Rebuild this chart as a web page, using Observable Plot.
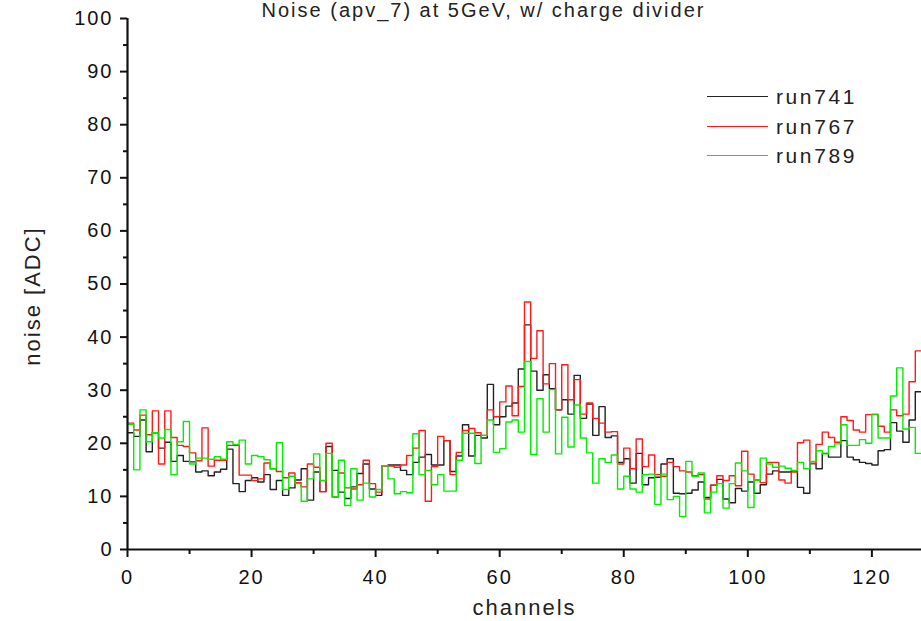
<!DOCTYPE html>
<html><head><meta charset="utf-8">
<script src="https://cdn.jsdelivr.net/npm/d3@7"></script>
<script src="https://cdn.jsdelivr.net/npm/@observablehq/plot@0.6"></script>
<style>
body{margin:0;background:#fff;}
#wrap{position:relative;width:921px;height:621px;overflow:hidden;font-family:"Liberation Sans",Arial,sans-serif;}
#wrap svg text{letter-spacing:2px;}
#wrap svg text.ylab{letter-spacing:0.8px;}
.legend{position:absolute;left:707px;top:82px;}
.legend .row{display:flex;align-items:center;height:29.5px;}
.legend .sw{width:61px;height:0;border-top:1.4px solid;margin-right:8px;}
.legend .lab{font-size:21px;letter-spacing:2.6px;color:#222;line-height:1;}
</style></head><body><div id="wrap"></div>
<script>
const titleText = "Noise (apv_7) at 5GeV, w/ charge divider";
const xLabel = "channels";
const yLabel = "noise [ADC]";
const seriesNames = ["run741", "run767", "run789"];
const seriesColors = ["#222222", "#ff1a1a", "#00ee00"];
const yTickValues = [0, 10, 20, 30, 40, 50, 60, 70, 80, 90, 100];
const yMinorTicks = [5, 15, 25, 35, 45, 55, 65, 75, 85, 95];
const xTickValues = [0, 20, 40, 60, 80, 100, 120];
const xMinorTicks = [10, 30, 50, 70, 90, 110];

// noise per channel (0..127)
const run741 = [
  22, 21.3, 24.4, 18.4, 22, 19.1, 20.2, 16.6, 17.7, 16.6, 16.5, 14.6, 14.8, 13.9, 14.6, 15.1, 18.9, 12.4, 10.9, 13, 13.5,
  12.7, 14.1, 11.3, 13, 10.2, 11.6, 13.1, 15.2, 9.3, 14.6, 10.9, 19.4, 14.9, 10.8, 9.6, 11.8, 14.3, 16.1, 11.4, 10.2, 15.8,
  15.9, 15.9, 14.9, 14.1, 16.4, 17.4, 17.9, 15.9, 15.9, 20.5, 14.7, 17.6, 23.5, 17.6, 21.5, 21, 31.1, 23.5, 25, 27, 27.6, 34,
  42.3, 33.6, 30, 32.9, 30.3, 26.3, 28.2, 25.5, 32.8, 24.7, 27.4, 21.5, 26.9, 21.1, 21.4, 16.4, 17.1, 12.5, 18.1, 12.2, 13.5,
  13.6, 16.1, 17.1, 10.6, 10.5, 10.6, 11.2, 12.7, 9.8, 12.1, 13.2, 9.5, 8.8, 11.5,
  11, 12.7, 10.6, 12.2, 14.2, 14.8, 14.6, 14.6, 14.8, 11.7, 10.6, 16.2, 15.2, 18.1, 17.4, 17.4, 20.5, 17.4, 16.9, 16.4,
  16.2, 15.9, 18.6, 18.8, 23.9, 22.3, 20.2, 24.4, 29.7
];
const run767 = [
  23.8, 22.5, 25.3, 21.6, 26.1, 16.1, 26.1, 21.1, 19.6, 19.4, 18.2, 16.7, 22.9, 15.7, 16.8, 16.8, 19.6, 19.6, 14, 14, 13,
  13.3, 16.3, 15.2, 14.7, 13.5, 14.4, 12.6, 11.8, 16.1, 15.5, 10.9, 20, 9.9, 14.4, 11.6, 11.4, 12.2, 16.8, 12.4, 10.8, 15.7,
  15.7, 15.5, 15.9, 17.7, 19.1, 22.4, 9.1, 15.6, 21.3, 20.5, 14.1, 18.3, 22.4, 22.8, 22, 21.5, 26.3, 25, 27.8, 30.8, 25.2, 30.7,
  46.6, 36, 41.2, 31.2, 35, 26.3, 34.8, 28.2, 32, 25.5, 27.6, 24.7, 23.8, 22.1, 22.2, 16.1, 19.1, 15.2, 20.8, 15.6, 17.8,
  14.1, 13.8, 16.4, 15.6, 14.8, 14.6, 13.9, 14.1, 9.5, 12.1, 13.9, 13, 13.9, 12,
  18.5, 14.2, 13.1, 12.6, 16.4, 16.4, 13.1, 12.5, 14.6, 20.1, 20.6, 16.2, 19.8, 22.1, 21.1, 20.2, 25, 24.3, 22.5, 22.1,
  25.4, 25.4, 23.2, 22.1, 26.3, 25.2, 25.5, 31.6, 37.4
];
const run789 = [
  23.6, 15, 26.3, 20.3, 22, 21, 22.6, 14.1, 20.3, 24.1, 16.1, 17.2, 17.2, 17, 17.5, 17, 20.3, 19.8, 20.6, 16.1, 17.7,
  17.5, 16.9, 15.2, 20.1, 11.3, 13.8, 12.4, 9.1, 13.3, 18, 13, 18.1, 9.9, 16.8, 8.3, 15.2, 9.3, 12.5, 9.9, 11.3, 15.8,
  13.3, 10.5, 10.9, 10.7, 21.8, 14.1, 14.9, 12.2, 14.1, 11, 11, 16.8, 21.9, 21.9, 16.2, 21.5, 24.4, 18.3, 19, 24, 24.4, 22.1,
  35.4, 17.9, 28.4, 22.1, 30.1, 18, 24.9, 19.3, 27.2, 21, 18.2, 12.5, 17.1, 16.4, 17.8, 11.4, 13.8, 11.4, 10.8, 14.1, 14.2,
  8.5, 14.2, 9.4, 10, 6.2, 16.6, 13.8, 14.4, 6.9, 10.8, 12.4, 7.8, 12.4, 16.3,
  14.8, 7.9, 13.1, 17.2, 16.1, 15.5, 15.7, 15.3, 14.9, 16.4, 15.2, 16.6, 18.6, 18, 19.4, 19.9, 23.5, 19.6, 19.6, 20.7,
  20, 25.5, 21, 21, 28.9, 34.2, 22.7, 23, 18.1
];

const allSeries = [run741, run767, run789];
const rows = [];
allSeries.forEach((vals, k) => {
  vals.forEach((v, i) => rows.push({ch: i, v, s: seriesNames[k]}));
  rows.push({ch: vals.length, v: vals[vals.length - 1], s: seriesNames[k]});
});

const axisColor = "#111";
const chart = Plot.plot({
  width: 921, height: 621,
  marginLeft: 127, marginRight: 0, marginTop: 18, marginBottom: 72,
  style: {fontFamily: '"Liberation Sans", Arial, sans-serif', color: "#222", background: "#fff"},
  x: {domain: [0, 128]},
  y: {domain: [0, 100]},
  color: {domain: seriesNames, range: seriesColors},
  marks: [
    Plot.line(rows, {x: "ch", y: "v", z: "s", stroke: "s", curve: "step-after", strokeWidth: 1.4}),
    Plot.axisY(yTickValues, {tickSize: 7, tickPadding: 7, fontSize: 20, label: null, color: axisColor, strokeWidth: 2}),
    Plot.axisY(yMinorTicks, {tickSize: 4, tickFormat: () => "", label: null, color: axisColor, strokeWidth: 2}),
    Plot.axisX(xTickValues, {tickSize: 8, tickPadding: 12, fontSize: 20, label: null, color: axisColor, strokeWidth: 2}),
    Plot.axisX(xMinorTicks, {tickSize: 5, tickFormat: () => "", label: null, color: axisColor, strokeWidth: 2}),
    Plot.ruleX([0], {stroke: axisColor, strokeWidth: 2.2}),
    Plot.ruleY([0], {stroke: axisColor, strokeWidth: 2.2}),
    Plot.text([yLabel], {frameAnchor: "left", textAnchor: "middle", lineAnchor: "middle", dx: -95, dy: 12, rotate: -90, fontSize: 22, fill: "#222", className: "ylab"}),
    Plot.text([xLabel], {frameAnchor: "bottom", lineAnchor: "middle", dy: 58, fontSize: 22, fill: "#222"}),
    Plot.text([titleText], {frameAnchor: "top", lineAnchor: "middle", dx: -41, dy: -8, fontSize: 20, fill: "#222"})
  ]
});
const wrap = document.getElementById("wrap");
wrap.appendChild(chart);

const legend = document.createElement("div");
legend.className = "legend";
seriesNames.forEach((name, k) => {
  const row = document.createElement("div");
  row.className = "row";
  const sw = document.createElement("div");
  sw.className = "sw";
  sw.style.borderTopColor = seriesColors[k];
  const lab = document.createElement("span");
  lab.className = "lab";
  lab.textContent = name;
  row.appendChild(sw); row.appendChild(lab);
  legend.appendChild(row);
});
wrap.appendChild(legend);
</script></body></html>
